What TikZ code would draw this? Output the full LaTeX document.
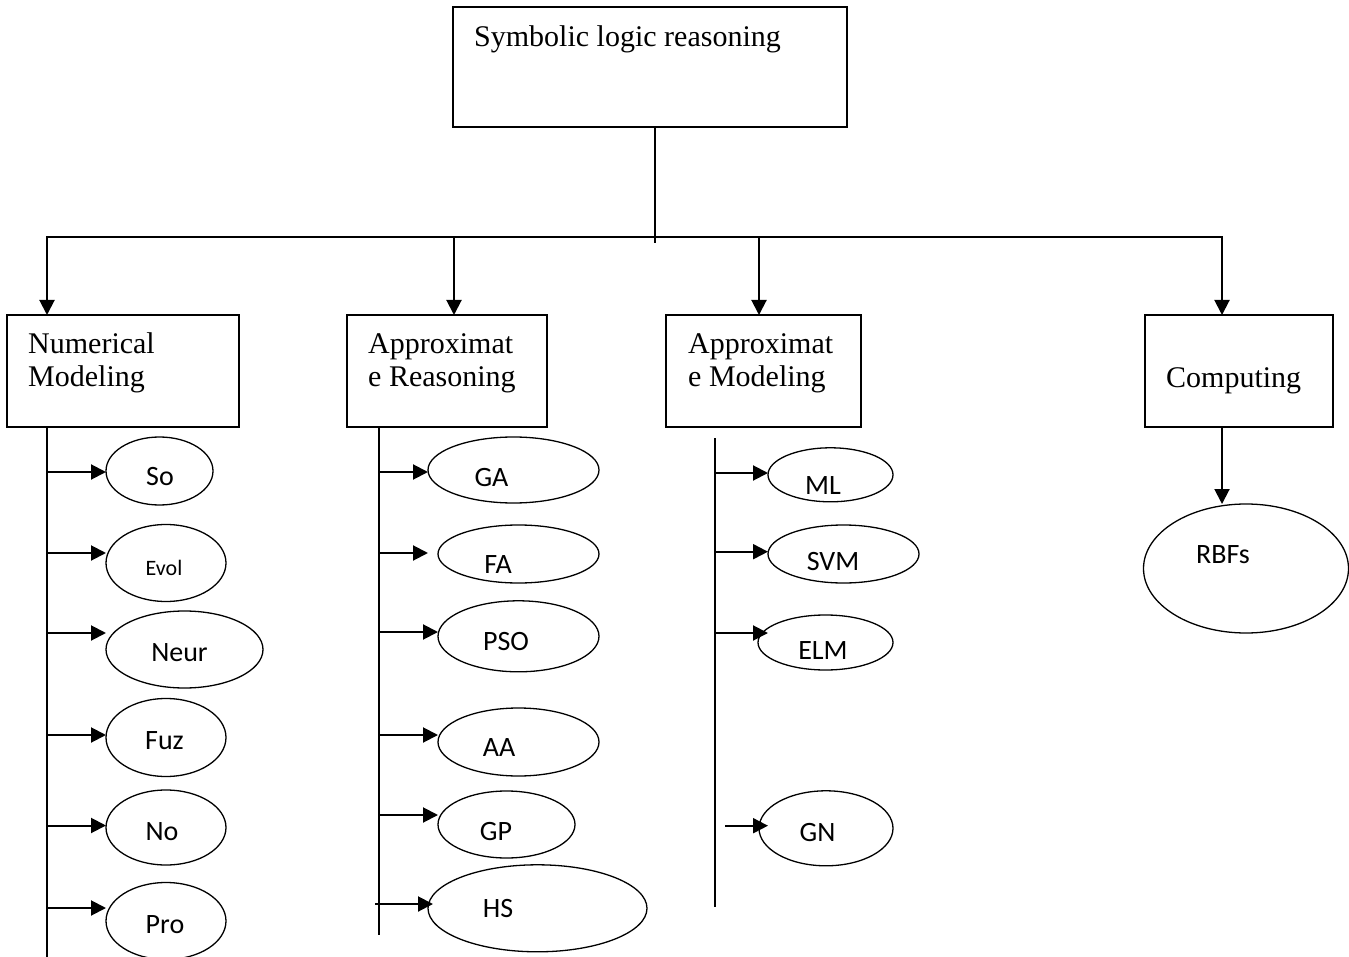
\documentclass[tikz,border=0pt]{standalone}
\usepackage{fontspec}
\setmainfont{Liberation Serif}
\newfontfamily\ellfont{Carlito}
\usetikzlibrary{arrows.meta,shapes.geometric}
\begin{document}
\begin{tikzpicture}[x=1pt,y=-1pt,
  box/.style={draw, line width=1.6pt, rectangle, inner sep=0pt, outer sep=0pt, anchor=north west},
  ell/.style={draw, line width=1.3pt, ellipse, inner sep=0pt, outer sep=0pt},
  btxt/.style={font=\fontsize{30}{33}\selectfont, anchor=base west, inner sep=0pt},
  etxt/.style={font=\ellfont\fontsize{28}{30}\selectfont, anchor=base, inner sep=0pt},
  conn/.style={line width=2pt},
  arr/.style={line width=2pt, -{Triangle[length=15pt,width=15pt]}},
]
\useasboundingbox (0,0) rectangle (1349,957);

% ---------- boxes ----------
\node[box, minimum width=394pt, minimum height=120pt] (top) at (453,7) {};
\node[btxt] (topT) at (474,47) {Symbolic logic reasoning};

\node[box, minimum width=232pt, minimum height=112pt] (nm) at (7,315) {};
\node[btxt] (nmT1) at (28,354) {Numerical};
\node[btxt] (nmT2) at (28,387) {Modeling};

\node[box, minimum width=200pt, minimum height=112pt] (ar) at (347,315) {};
\node[btxt] (arT1) at (368,354) {Approximat};
\node[btxt] (arT2) at (368,387) {e Reasoning};

\node[box, minimum width=195pt, minimum height=112pt] (am) at (666,315) {};
\node[btxt] (amT1) at (688,354) {Approximat};
\node[btxt] (amT2) at (688,387) {e Modeling};

\node[box, minimum width=188pt, minimum height=112pt] (comp) at (1145,315) {};
\node[btxt] (compT) at (1166,388) {Computing};

% ---------- top connectors ----------
\coordinate (hub) at (655,237);
\coordinate (c1) at (47,237);
\coordinate (c2) at (454,237);
\coordinate (c3) at (759,237);
\coordinate (c4) at (1222,237);
\draw[conn] (hub |- top.south) -- ([yshift=-6pt]hub);
\draw[conn, line cap=rect] (c1) -- (c4);
\draw[arr] (c1) -- (c1 |- nm.north);
\draw[arr] (c2) -- (c2 |- ar.north);
\draw[arr] (c3) -- (c3 |- am.north);
\draw[arr] (c4) -- (c4 |- comp.north);

% ---------- column 1 ----------
\node[ell, minimum width=107pt, minimum height=68pt] (so) at (159.5,471) {};
\node[etxt] (soT) at (160,485) {So};
\node[ell, minimum width=120pt, minimum height=77pt] (evol) at (166,563) {};
\node[etxt, font=\ellfont\fontsize{22}{24}\selectfont] (evolT) at (164,575) {Evol};
\node[ell, minimum width=157pt, minimum height=77pt] (neur) at (184.5,649.5) {};
\node[etxt] (neurT) at (179.5,661) {Neur};
\node[ell, minimum width=120pt, minimum height=78pt] (fuz) at (166,737.5) {};
\node[etxt] (fuzT) at (164.5,749) {Fuz};
\node[ell, minimum width=120pt, minimum height=75pt] (no) at (166,827.5) {};
\node[etxt] (noT) at (162,840) {No};
\node[ell, minimum width=120pt, minimum height=77pt] (pro) at (166,921) {};
\node[etxt] (proT) at (165,933) {Pro};

\coordinate (t1top) at (47,427);
\coordinate (t1bot) at (47,957);
\draw[conn] (t1top) -- (t1bot);
\path ([yshift=-1pt]so.west) coordinate (eSo);
\path ([yshift=10pt]evol.west) coordinate (eEvol);
\path ([yshift=16.5pt]neur.west) coordinate (eNeur);
\path ([yshift=2.5pt]fuz.west) coordinate (eFuz);
\path ([yshift=2pt]no.west) coordinate (eNo);
\path ([yshift=13pt]pro.west) coordinate (ePro);
\foreach \e in {eSo,eEvol,eNeur,eFuz,eNo,ePro}
  \draw[arr] (t1top |- \e) -- (\e);

% ---------- column 2 ----------
\node[ell, minimum width=171pt, minimum height=66pt] (ga) at (513.5,470) {};
\node[etxt] (gaT) at (491.5,486.5) {GA};
\node[ell, minimum width=161pt, minimum height=58pt] (fa) at (518.5,554) {};
\node[etxt] (faT) at (498,573) {FA};
\node[ell, minimum width=161pt, minimum height=71pt] (pso) at (518.5,636.3) {};
\node[etxt] (psoT) at (506,650) {PSO};
\node[ell, minimum width=161pt, minimum height=68pt] (aa) at (518.5,742) {};
\node[etxt] (aaT) at (499,756) {AA};
\node[ell, minimum width=137pt, minimum height=67pt] (gp) at (506.5,824.5) {};
\node[etxt] (gpT) at (496,840.5) {GP};
\node[ell, minimum width=219pt, minimum height=87pt] (hs) at (537.5,908.3) {};
\node[etxt] (hsT) at (498,917) {HS};

\coordinate (t2top) at (379,427);
\coordinate (t2bot) at (379,935);
\draw[conn] (t2top) -- (t2bot);
\path ([yshift=-2pt]ga.west) coordinate (eGa);
\path ([xshift=-10pt,yshift=1pt]fa.west) coordinate (eFa);
\path ([yshift=4.3pt]pso.west) coordinate (ePso);
\path ([yshift=7pt]aa.west) coordinate (eAa);
\path ([yshift=9.5pt]gp.west) coordinate (eGp);
\path ([xshift=5pt,yshift=4.3pt]hs.west) coordinate (eHs);
\foreach \e in {eGa,eFa,ePso,eAa,eGp}
  \draw[arr] (t2top |- \e) -- (\e);
\path (t2top |- eHs) coordinate (sHs);
\draw[arr] ([xshift=-4pt]sHs) -- (eHs);

% ---------- column 3 ----------
\node[ell, minimum width=125pt, minimum height=54pt] (ml) at (830.5,474.8) {};
\node[etxt] (mlT) at (823,494) {ML};
\node[ell, minimum width=151pt, minimum height=58pt] (svm) at (843.5,554) {};
\node[etxt] (svmT) at (833,570.5) {SVM};
\node[ell, minimum width=135pt, minimum height=55pt] (elm) at (825.5,642.5) {};
\node[etxt] (elmT) at (823,659) {ELM};
\node[ell, minimum width=134pt, minimum height=75pt] (gn) at (826,828.3) {};
\node[etxt] (gnT) at (817.5,841.5) {GN};

\coordinate (t3top) at (715,438);
\coordinate (t3bot) at (715,907);
\draw[conn] (t3top) -- (t3bot);
\path ([yshift=1.8pt]ml.west) coordinate (eMl);
\path ([yshift=2.3pt]svm.west) coordinate (eSvm);
\path ([xshift=10pt,yshift=9.5pt]elm.west) coordinate (eElm);
\path ([xshift=9pt,yshift=2.6pt]gn.west) coordinate (eGn);
\foreach \e in {eMl,eSvm,eElm}
  \draw[arr] (t3top |- \e) -- (\e);
\path (t3top |- eGn) coordinate (sGn);
\draw[arr] ([xshift=10pt]sGn) -- (eGn);

% ---------- computing ----------
\node[ell, minimum width=205pt, minimum height=129pt] (rbf) at (1246,568.5) {};
\node[etxt] (rbfT) at (1223,563) {RBFs};
\draw[arr] (c4 |- comp.south) -- (c4 |- rbf.north);

\end{tikzpicture}
\end{document}
